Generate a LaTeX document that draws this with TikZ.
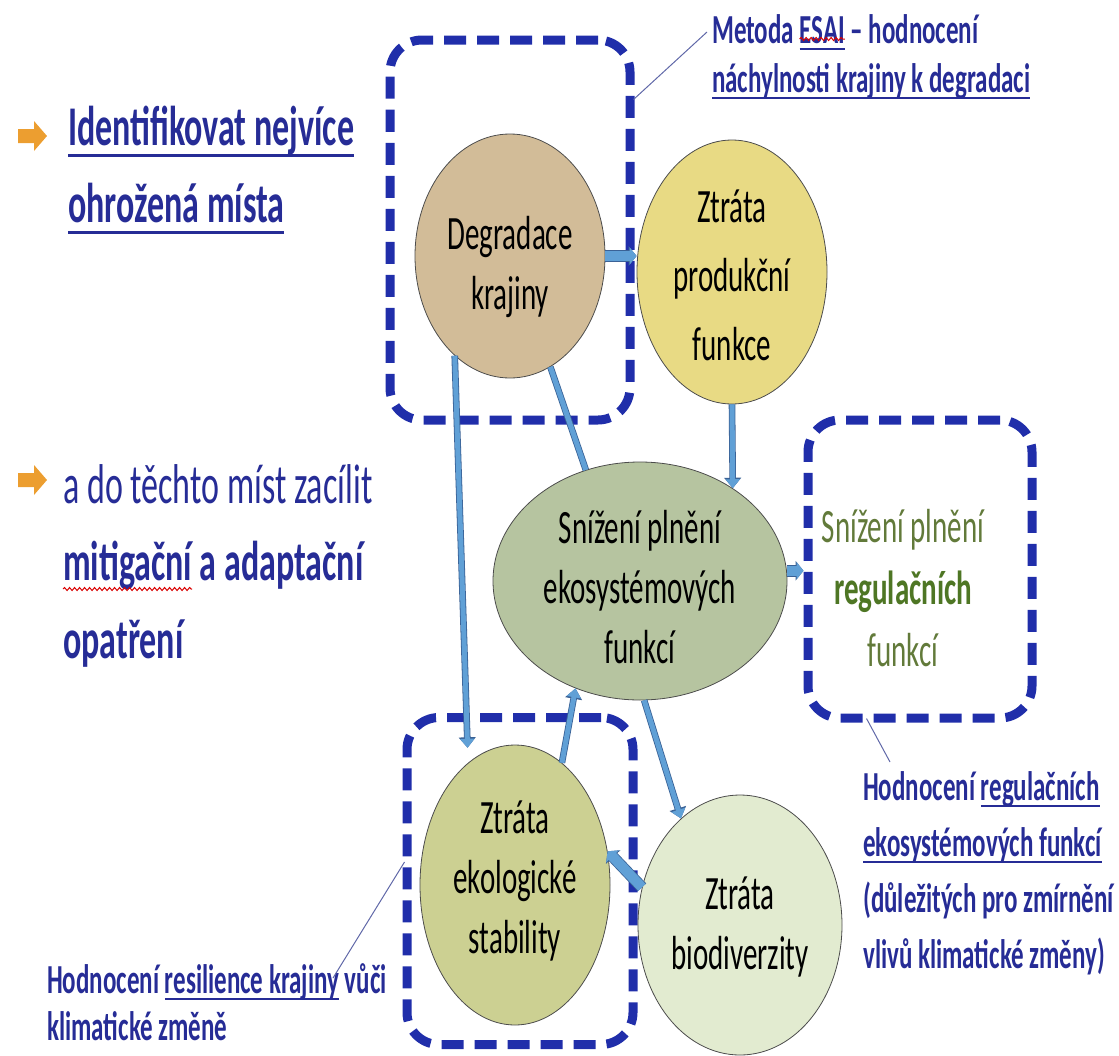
\documentclass[tikz,border=0pt]{standalone}
\usepackage{fontspec}
\setmainfont{Carlito}
\usepackage{graphicx}
\usetikzlibrary{arrows.meta,shapes.geometric,calc,decorations.pathmorphing}

\definecolor{txtblue}{RGB}{38,44,150}
\definecolor{boxblue}{RGB}{32,46,170}
\definecolor{bulorange}{RGB}{236,158,48}
\definecolor{arrowfill}{RGB}{96,160,214}
\definecolor{arrowline}{RGB}{58,98,150}
\definecolor{degfill}{RGB}{210,188,152}
\definecolor{prodfill}{RGB}{232,218,132}
\definecolor{snizfill}{RGB}{182,196,160}
\definecolor{ekofill}{RGB}{204,208,146}
\definecolor{biofill}{RGB}{226,235,208}
\definecolor{regolive}{RGB}{98,122,58}
\definecolor{regbold}{RGB}{78,118,36}
\definecolor{leadgray}{RGB}{96,104,168}

\newlength{\uldepth}
\newlength{\ulthick}
\newsavebox{\ulbox}
\newcommand{\ul}[1]{\sbox{\ulbox}{#1}\rlap{\rule[-\uldepth]{\wd\ulbox}{\ulthick}}\usebox{\ulbox}}
\newcommand{\ulbig}{\setlength{\uldepth}{7pt}\setlength{\ulthick}{1.8pt}}
\newcommand{\ulsmall}{\setlength{\uldepth}{4.2pt}\setlength{\ulthick}{1.2pt}}
\newcommand{\tall}[2][l]{\scalebox{1}[1.65]{\begin{tabular}[t]{@{}#1@{}}#2\end{tabular}}}
\newcommand{\inblob}[2][-17pt]{\makebox[0pt]{\smash{\raisebox{#1}{\scalebox{1}[1.65]{\begin{tabular}{@{}c@{}}#2\end{tabular}}}}}}
\newlength{\mitw}
\newlength{\esaiw}
\newlength{\metw}

\begin{document}
\settowidth{\mitw}{\fontsize{34}{47}\selectfont\bfseries mitigační}%
\settowidth{\metw}{\fontsize{25}{30}\selectfont\bfseries Metoda }%
\settowidth{\esaiw}{\fontsize{25}{30}\selectfont\bfseries ESAI}%
\begin{tikzpicture}[x=1pt,y=-1pt,
    blob/.style={ellipse, draw=black!70, line width=0.8pt, inner sep=0pt, text=black},
    frame/.style={draw=boxblue, line width=9pt, dash pattern=on 22pt off 11pt, rounded corners=32pt, inner sep=0pt},
    flow/.style={draw=arrowfill, line width=5pt, -{Triangle[length=9pt,width=14pt]},
        preaction={draw=arrowline, line width=6.6pt, -{Triangle[length=10.5pt,width=16.5pt]}}},
    bigflow/.style={draw=arrowfill, line width=10pt, -{Triangle[length=7pt,width=17pt]},
        preaction={draw=arrowline, line width=11.6pt, -{Triangle[length=8pt,width=19.5pt]}}},
    link/.style={draw=arrowfill, line width=5pt, preaction={draw=arrowline, line width=6.6pt}},
    leader/.style={draw=leadgray, line width=1pt},
    spell/.style={draw=red!85!black, line width=1pt, decorate, decoration={snake, amplitude=1.5pt, segment length=5pt}},
    note/.style={anchor=base west, text=txtblue, inner sep=0pt}]
    \useasboundingbox (0,0) rectangle (1119,1055);

    % left column
    \foreach \y in {136,480} {
        \fill[bulorange] (18,\y-7) -- (34,\y-7) -- (34,\y-15) -- (47,\y) -- (34,\y+15) -- (34,\y+7) -- (18,\y+7) -- cycle;
    }
    \node[note, font=\fontsize{34}{47}\selectfont\bfseries\ulbig] (ident) at (68,145)
        {\tall{\ul{Identifikovat nejvíce}\\\ul{ohrožená místa}}};
    \node[note, font=\fontsize{34}{47}\selectfont\ulbig] (target) at (63,503)
        {\tall{a do těchto míst zacílit\\\textbf{mitigační a adaptační}\\\textbf{opatření}}};
    \draw[spell] ($(target.base west)+(0,86)$) -- ++(\mitw,0pt);

    % dashed frames
    \node[frame, minimum width=240, minimum height=380] (degbox) at (510,230) {};
    \node[frame, minimum width=224, minimum height=298] (regbox) at (920,569) {};
    \node[frame, minimum width=226, minimum height=327] (ekobox) at (520,881) {};

    \node[blob, fill=degfill, minimum width=190, minimum height=244, font=\fontsize{29}{36.4}\selectfont] (deg) at (510,256)
        {\inblob[-22pt]{Degradace\\krajiny}};
    \node[blob, fill=prodfill, minimum width=190, minimum height=264, font=\fontsize{29}{42}\selectfont] (prod) at (732,272)
        {\inblob[-16pt]{Ztráta\\produkční\\funkce}};
    \node[blob, fill=snizfill, minimum width=294, minimum height=238, font=\fontsize{29}{36.4}\selectfont] (sniz) at (640,581)
        {\inblob[-21pt]{Snížení plnění\\ekosystémových\\funkcí}};
    \node[blob, fill=ekofill, minimum width=190, minimum height=280, font=\fontsize{29}{36.4}\selectfont] (eko) at (515,885)
        {\inblob[-7pt]{Ztráta\\ekologické\\stability}};
    \node[blob, fill=biofill, minimum width=204, minimum height=260, font=\fontsize{29}{36.4}\selectfont] (bio) at (740,925)
        {\inblob[-13pt]{Ztráta\\biodiverzity}};
    \node[font=\fontsize{29}{37.6}\selectfont, text=regolive, inner sep=0pt] (regtext) at (903,592)
        {\tall[c]{Snížení plnění\\\textcolor{regbold}{\textbf{regulačních}}\\funkcí}};

    % connectors
    \draw[bigflow] (deg.east) -- (deg.east -| prod.west);
    \draw[flow, shorten >=15pt] (deg.241) -- (eko.111);
    \draw[link] (deg.290) -- (sniz.116);
    \draw[flow] (prod.south) -- (sniz.45);
    \draw[bigflow] (sniz.4) -- (sniz.4 -| regbox.west);
    \draw[flow] (sniz.272) -- (bio.119);
    \draw[flow] (eko.69) -- (sniz.239);
    \draw[bigflow] (bio.159) -- (eko.20);

    % callouts
    \node[note, font=\fontsize{25}{30}\selectfont\bfseries\ulsmall] (esai) at (712,43)
        {\tall{Metoda \ul{ESAI} – hodnocení\\\ul{náchylnosti krajiny k degradaci}}};
    \draw[spell] ($(esai.base west)+(\metw,4pt)$) -- ++(\esaiw,0pt);
    \node[note, font=\fontsize{25}{34}\selectfont\bfseries\ulsmall] (regnote) at (863,800)
        {\tall{Hodnocení \ul{regulačních}\\\ul{ekosystémových funkcí}\\(důležitých pro zmírnění\\vlivů klimatické změny)}};
    \node[note, font=\fontsize{25}{28.5}\selectfont\bfseries\ulsmall] (resnote) at (47,993)
        {\tall{Hodnocení \ul{resilience krajiny} vůči\\klimatické změně}};
    \draw[leader] ($(degbox.north east)+(-1,64)$) -- ($(esai.base west)+(-5,-11)$);
    \draw[leader] ($(regbox.south west)+(63,-4)$) -- ($(regnote.base west)+(27,-38)$);
    \draw[leader] ($(ekobox.west)+(2,-19)$) -- ($(resnote.base west)+(286,-15)$);
\end{tikzpicture}
\end{document}
